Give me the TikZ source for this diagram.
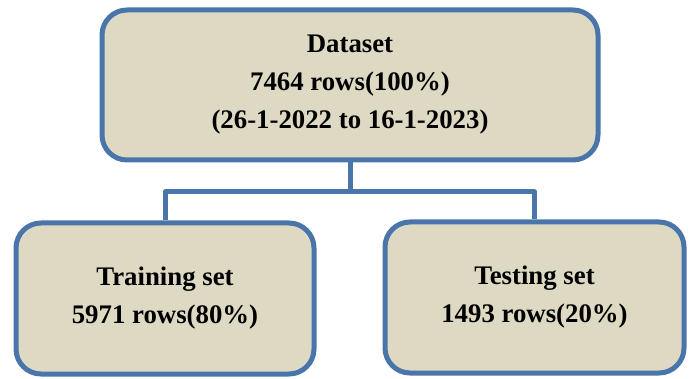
\documentclass[tikz,border=0pt]{standalone}
\usepackage{fontspec}
\setmainfont{Liberation Serif}
\definecolor{boxblue}{HTML}{4A75AA}
\definecolor{boxtan}{HTML}{DDD9C3}
\tikzset{box/.style={rectangle,draw=boxblue,fill=boxtan,line width=5pt,rounded corners=25pt,inner sep=0pt,align=center,font=\fontsize{26.8}{38}\selectfont\bfseries}}
\tikzset{link/.style={draw=boxblue,line width=5pt,line join=round}}

\begin{document}
\begin{tikzpicture}[x=1pt,y=1pt]
      \useasboundingbox (0,0) rectangle (691,378);
      \node[box,minimum width=496pt,minimum height=150pt] (data) at (350,293) {Dataset\\7464 rows(100\%)\\(26-1-2022 to 16-1-2023)};
      \node[box,minimum width=298pt,minimum height=151pt] (train) at (165,79.5) {Training set\\5971 rows(80\%)};
      \node[box,minimum width=299pt,minimum height=151pt] (test) at (534.5,80.5) {Testing set\\1493 rows(20\%)};
      \coordinate (split) at (350,186);
      \draw[link] (data.south) -- (split);
      \draw[link] (split) -| (train.north);
      \draw[link] (split) -| (test.north);
    \end{tikzpicture}
\end{document}
